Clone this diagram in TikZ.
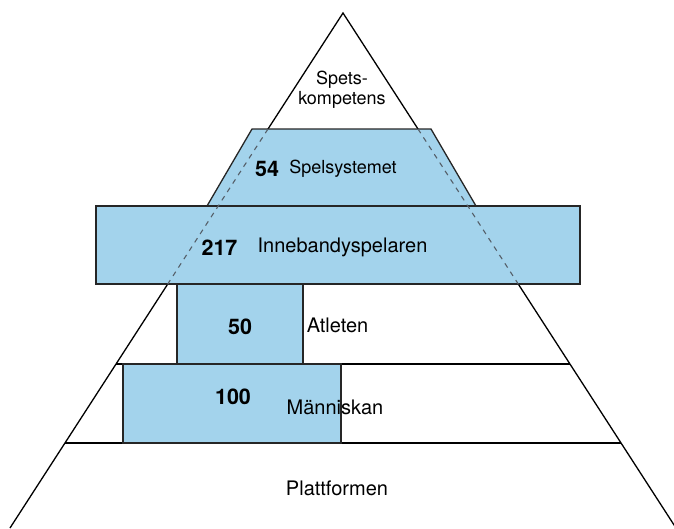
\documentclass[tikz,border=0pt]{standalone}
\usepackage{fontspec}
\setmainfont{TeX Gyre Heros}
\usetikzlibrary{calc}
\definecolor{blokblue}{RGB}{163,211,236}
\definecolor{kantgrey}{RGB}{85,95,105}
\tikzset{
	blok/.style={fill=blokblue,draw=black!85,line width=1.3pt},
	kant/.style={draw=black,line width=1.3pt},
	niva/.style={draw=black,line width=2.2pt},
	streck/.style={draw=kantgrey,line width=1.1pt,dash pattern=on 5pt off 5pt},
	tal/.style={font=\fontsize{21.5}{24}\selectfont\bfseries,inner sep=0pt},
	etikett/.style={font=\fontsize{20}{24}\selectfont,inner sep=0pt},
	litet/.style={font=\fontsize{18}{20}\selectfont,inner sep=0pt,align=center}
}

\begin{document}
\begin{tikzpicture}[x=1pt,y=-1pt]
	\useasboundingbox (0,0) rectangle (674,528);
	\coordinate (topp) at (343,13);
	\coordinate (vbas) at (10,528);
	\coordinate (hbas) at (676,528);

	\coordinate (v1) at ($(topp)!0.2252!(vbas)$);
	\coordinate (h1) at ($(topp)!0.2252!(hbas)$);
	\coordinate (v2) at ($(topp)!0.5262!(vbas)$);
	\coordinate (h2) at ($(topp)!0.5262!(hbas)$);
	\coordinate (v3) at ($(topp)!0.6816!(vbas)$);
	\coordinate (h3) at ($(topp)!0.6816!(hbas)$);
	\coordinate (v4) at ($(topp)!0.8350!(vbas)$);
	\coordinate (h4) at ($(topp)!0.8350!(hbas)$);

	\draw [kant] (vbas) -- (topp) -- (hbas);
	\draw [niva] (v3) -- (h3);
	\draw [niva] (v4) -- (h4);

	\filldraw [blok] (252,129) -- (431,129) -- (476,206) -- (207,206) -- cycle;
	\filldraw [blok] (96,206) rectangle (580,284);
	\filldraw [blok] (177,284) rectangle (303,364);
	\filldraw [blok] (123,364) rectangle (341,443);

	\draw [streck] (v1) -- (v2);
	\draw [streck] (h1) -- (h2);

	\node [litet] (spets) at (342,90) {Spets-\\kompetens};
	\node [tal] (n54) at (267,169) {54};
	\node [litet] (spel) at (343,169) {Spelsystemet};
	\node [tal] (n217) at (219.5,248) {217};
	\node [etikett] (inne) at (342.5,247) {Innebandyspelaren};
	\node [tal] (n50) at (240,327) {50};
	\node [etikett] (atlet) at (337.5,325) {Atleten};
	\node [tal] (n100) at (233,397) {100};
	\node [etikett] (manni) at (335,407) {Människan};
	\node [etikett] (platt) at (337,488) {Plattformen};
\end{tikzpicture}
\end{document}
